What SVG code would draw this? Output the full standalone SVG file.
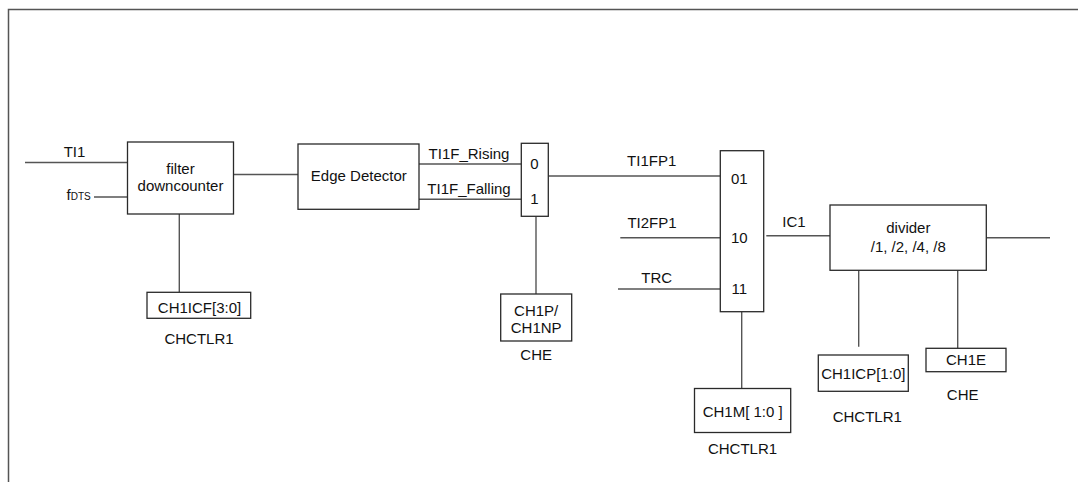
<svg xmlns="http://www.w3.org/2000/svg" width="1078" height="482" viewBox="0 0 1078 482">
<style>
.box{fill:#fff;stroke:#2a2a2a;stroke-width:1.3}
.ln{stroke:#555;stroke-width:1.4;fill:none}
.frame{stroke:#555;stroke-width:1.5;fill:none}
text{font-family:"Liberation Sans",Arial,sans-serif;font-size:15px;fill:#111;text-anchor:middle}
.st{text-anchor:start}
</style>
<rect x="0" y="0" width="1078" height="482" fill="#fff"/>
<path class="frame" d="M8.5,482 V9.5 H1078"/>
<g id="connectors">
<line class="ln" x1="25" y1="162.5" x2="127.5" y2="162.5"/>
<line class="ln" x1="94" y1="197" x2="127.5" y2="197"/>
<line class="ln" x1="233.5" y1="174.5" x2="298" y2="174.5"/>
<line class="ln" x1="419" y1="164" x2="521.3" y2="164"/>
<line class="ln" x1="419" y1="199.3" x2="521.3" y2="199.3"/>
<line class="ln" x1="548.3" y1="176" x2="720.3" y2="176"/>
<line class="ln" x1="536" y1="216.3" x2="536" y2="294"/>
<line class="ln" x1="179.3" y1="214" x2="179.3" y2="292.3"/>
<line class="ln" x1="620.3" y1="237.7" x2="720.3" y2="237.7"/>
<line class="ln" x1="618" y1="289" x2="720.3" y2="289"/>
<line class="ln" x1="766.3" y1="235.7" x2="830" y2="235.7"/>
<line class="ln" x1="741.7" y1="311.7" x2="741.7" y2="388.3"/>
<line class="ln" x1="986.3" y1="237.7" x2="1050" y2="237.7"/>
<line class="ln" x1="858.7" y1="270.3" x2="858.7" y2="346.7"/>
<line class="ln" x1="957.7" y1="270.3" x2="957.7" y2="348.3"/>
</g>
<g id="labels">
<text x="74.5" y="156.7">TI1</text>
<text class="st" x="66.5" y="200">f<tspan font-size="10">DTS</tspan></text>
<text x="469" y="159.3">TI1F_Rising</text>
<text x="469" y="194">TI1F_Falling</text>
<text x="651.7" y="165.7">TI1FP1</text>
<text x="652" y="227.7">TI2FP1</text>
<text x="656.7" y="282.7">TRC</text>
<text x="794" y="227.3">IC1</text>
</g>
<g id="filter">
<rect class="box" x="127.5" y="142" width="106" height="72"/>
<text x="180.5" y="174">filter</text>
<text x="180.5" y="191.3">downcounter</text>
</g>
<g id="ch1icf">
<rect class="box" x="147" y="292.3" width="103.7" height="26"/>
<text x="199.5" y="312.7" font-size="16">CH1ICF[3:0]</text>
<text x="199" y="344">CHCTLR1</text>
</g>
<g id="edge">
<rect class="box" x="298" y="144" width="121" height="65.3"/>
<text x="358.8" y="181">Edge Detector</text>
</g>
<g id="mux1">
<rect class="box" x="521.3" y="143.3" width="27" height="73"/>
<text x="534.5" y="169">0</text>
<text x="534.5" y="204">1</text>
</g>
<g id="ch1p">
<rect class="box" x="500.7" y="294" width="71" height="47"/>
<text x="536.2" y="316">CH1P/</text>
<text x="536.2" y="333">CH1NP</text>
<text x="536.2" y="360">CHE</text>
</g>
<g id="mux2">
<rect class="box" x="720.3" y="150.7" width="43.4" height="161"/>
<text x="739.3" y="184">01</text>
<text x="739.3" y="242.7">10</text>
<text x="739.3" y="294">11</text>
</g>
<g id="ch1m">
<rect class="box" x="694.5" y="388.5" width="96.2" height="44"/>
<text x="742.7" y="417.3">CH1M[ 1:0 ]</text>
<text x="742.5" y="454">CHCTLR1</text>
</g>
<g id="divider">
<rect class="box" x="830" y="205" width="156.3" height="65.3"/>
<text x="908.3" y="233.3">divider</text>
<text x="908.3" y="252.3">/1, /2, /4, /8</text>
</g>
<g id="ch1icp">
<rect class="box" x="818.3" y="355" width="90" height="36.3"/>
<text x="863.3" y="379">CH1ICP[1:0]</text>
<text x="867.3" y="421.7">CHCTLR1</text>
</g>
<g id="ch1e">
<rect class="box" x="926" y="348.3" width="80" height="23.4"/>
<text x="966" y="365">CH1E</text>
<text x="962.7" y="400">CHE</text>
</g>
</svg>
